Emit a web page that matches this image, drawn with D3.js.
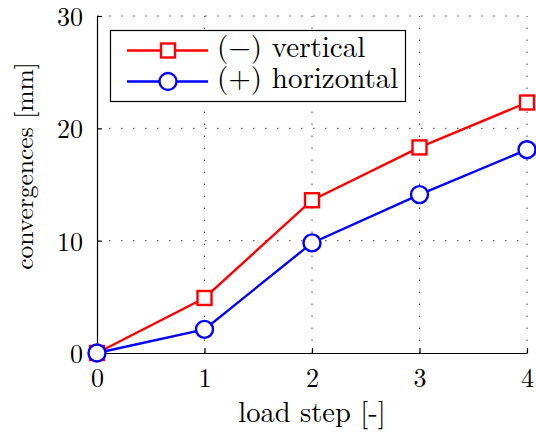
<!DOCTYPE html>
<html><head><meta charset="utf-8">
<script src="https://cdn.jsdelivr.net/npm/d3@7"></script>
<style>body{margin:0;background:#fff}svg{display:block}</style>
</head><body>
<svg id="c" width="536" height="433"></svg>
<script>
const steps = [0, 1, 2, 3, 4];
const vertical = [0, 4.9, 13.6, 18.3, 22.3];
const horizontal = [0, 2.1, 9.8, 14.1, 18.1];
const xTicks = [0, 1, 2, 3, 4];
const yTicks = [0, 10, 20, 30];
const seriesNames = ["(\u2212) vertical", "(+) horizontal"];

const FONT = '"Latin Modern Roman", "Liberation Serif", serif';
const svg = d3.select("#c");
const L = 97, R = 527, T = 16, B = 353;
const x = d3.scaleLinear().domain([0, 4]).range([L, R]);
const y = d3.scaleLinear().domain([0, 30]).range([B, T]);

// grid
const g = svg.append("g");
g.selectAll(".gx").data(xTicks.slice(1)).join("line")
  .attr("x1", d => x(d)).attr("x2", d => x(d)).attr("y1", B).attr("y2", T)
  .attr("stroke", "#444").attr("stroke-width", 1).attr("stroke-dasharray", "1.5,10.5");
g.selectAll(".gy").data(yTicks.slice(1)).join("line")
  .attr("y1", d => y(d)).attr("y2", d => y(d)).attr("x1", L).attr("x2", R)
  .attr("stroke", "#444").attr("stroke-width", 1).attr("stroke-dasharray", "1.5,10.5");

// axes
const xa = svg.append("g").attr("transform", `translate(0,${B})`)
  .call(d3.axisBottom(x).tickValues(xTicks).tickSizeInner(-5).tickSizeOuter(0).tickPadding(14).tickFormat(d3.format("d")));
const ya = svg.append("g").attr("transform", `translate(${L},0)`)
  .call(d3.axisLeft(y).tickValues(yTicks).tickSizeInner(-5).tickSizeOuter(0).tickPadding(14).tickFormat(d3.format("d")));
[xa, ya].forEach(a => {
  a.attr("font-family", null);
  a.select(".domain").attr("stroke", "#000").attr("stroke-width", 1.2);
  a.selectAll(".tick line").attr("stroke", "#000").attr("stroke-width", 1.2);
  a.selectAll(".tick text").style("font-family", FONT).style("font-size", "26px").attr("fill", "#000");
});
xa.selectAll(".tick text").attr("dy", null).attr("y", 34);
ya.selectAll(".tick text").attr("dy", "0.37em");

svg.append("text").attr("x", x(2)).attr("y", 422).attr("text-anchor", "middle")
  .style("font-family", FONT).style("font-size", "28.5px").text("load step [-]");
svg.append("text").attr("transform", `translate(33,166) rotate(-90)`)
  .attr("text-anchor", "middle").style("font-family", FONT).style("font-size", "25.5px")
  .text("convergences [mm]");

const line = d3.line().x((d, i) => x(steps[i])).y(d => y(d));
const series = [
  {vals: vertical, color: "#ff0000", shape: "square"},
  {vals: horizontal, color: "#0000ff", shape: "circle"}
];
function marker(sel, s, cx, cy) {
  if (s.shape === "square") {
    sel.append("rect").attr("x", cx - 7).attr("y", cy - 7).attr("width", 14).attr("height", 14)
      .attr("fill", "#fff").attr("stroke", s.color).attr("stroke-width", 2.4);
  } else {
    sel.append("circle").attr("cx", cx).attr("cy", cy).attr("r", 8.5)
      .attr("fill", "#fff").attr("stroke", s.color).attr("stroke-width", 2.4);
  }
}
series.forEach(s => {
  svg.append("path").datum(s.vals).attr("d", line).attr("fill", "none")
    .attr("stroke", s.color).attr("stroke-width", 2.4);
  const mg = svg.append("g");
  s.vals.forEach((v, i) => marker(mg, s, x(steps[i]), y(v)));
});

// legend
const lg = svg.append("g");
lg.append("rect").attr("x", 110.5).attr("y", 30.5).attr("width", 295).attr("height", 71)
  .attr("fill", "#fff").attr("stroke", "#000").attr("stroke-width", 1.2);
series.forEach((s, i) => {
  const ly = 50.5 + i * 31;
  lg.append("line").attr("x1", 127).attr("x2", 208).attr("y1", ly).attr("y2", ly)
    .attr("stroke", s.color).attr("stroke-width", 2.4);
  marker(lg, s, 168, ly);
  lg.append("text").attr("x", 217).attr("y", ly + 6)
    .style("font-family", FONT).style("font-size", "29px").text(seriesNames[i]);
});
</script>
</body></html>
